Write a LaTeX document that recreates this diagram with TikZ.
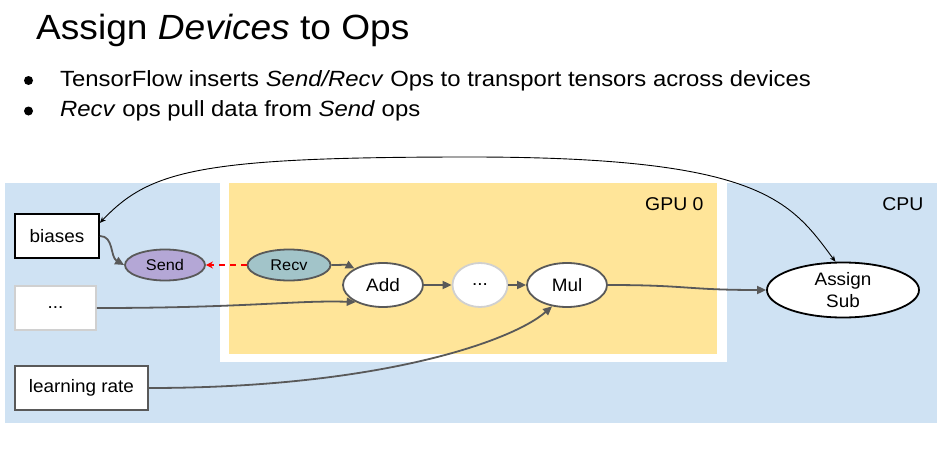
\documentclass[tikz,border=0pt]{standalone}
\usepackage{fontspec}
\setmainfont[FakeStretch=1.05]{Liberation Sans}
\newfontfamily\bulletfont[FakeStretch=1.085]{Liberation Sans}
\newfontfamily\titlefont[FakeStretch=1.06]{Liberation Sans}
\usetikzlibrary{shapes.geometric,arrows.meta}
\definecolor{cpublue}{HTML}{CFE2F3}
\definecolor{gpuyellow}{HTML}{FFE599}
\definecolor{sendpurple}{HTML}{B4A7D6}
\definecolor{recvteal}{HTML}{A2C4C9}
\definecolor{edgegray}{HTML}{595959}
\definecolor{lightgray}{HTML}{D0D0D0}
\tikzset{
  opnode/.style={ellipse, draw=edgegray, line width=1.8pt, fill=white, inner sep=0pt, minimum width=80pt, minimum height=44pt, font=\fontsize{18}{20}\selectfont},
  smallop/.style={ellipse, draw=edgegray, line width=1.8pt, inner sep=0pt, minimum height=31pt, font=\fontsize{15.5}{18}\selectfont},
  varbox/.style={draw, line width=1.8pt, fill=white, inner sep=0pt, minimum height=44pt, font=\fontsize{18}{20}\selectfont},
  flow/.style={draw=edgegray, line width=1.8pt, -{Triangle[length=9pt,width=8pt]}},
  thinflow/.style={draw=black, line width=0.9pt, {Stealth[length=6pt,width=5pt]}-{Stealth[length=6pt,width=5pt]}},
  devlabel/.style={anchor=base east, font=\fontsize{18.5}{20}\selectfont},
  bullettext/.style={anchor=base west, inner sep=0pt, font=\bulletfont\fontsize{22}{26}\selectfont}
}
\begin{document}
\begin{tikzpicture}[x=1pt,y=-1pt]
\useasboundingbox (0,0) rectangle (942,460);
\fill[white] (0,0) rectangle (942,460);
% title and bullets
\node[anchor=base west, inner sep=0pt, font=\titlefont\fontsize{35}{40}\selectfont] (title) at (36,40) {Assign \textit{Devices} to Ops};
\node[bullettext] (b1) at (60,86) {TensorFlow inserts \textit{Send/Recv} Ops to transport tensors across devices};
\node[bullettext] (b2) at (60,116.5) {\textit{Recv} ops pull data from \textit{Send} ops};
\fill (28.5,80.5) circle (4.5pt);
\fill (28.5,111) circle (4.5pt);
% regions
\fill[cpublue] (5,183) rectangle (937,423);
\fill[white] (220,183) rectangle (727,362);
\fill[gpuyellow] (229,183) rectangle (717,354);
\node[devlabel] (gpu) at (707,210.5) {GPU 0};
\node[devlabel] (cpu) at (927,210.5) {CPU};
% nodes
\node[varbox, draw=black, minimum width=84pt] (biases) at (57,236) {biases};
\node[varbox, draw=lightgray, minimum width=81pt] (dotsbox) at (55.5,308) {...};
\node[varbox, draw=edgegray, minimum width=133pt] (lr) at (81.5,388) {learning rate};
\node[smallop, fill=sendpurple, minimum width=80pt] (send) at (165,265) {Send};
\node[smallop, fill=recvteal, minimum width=83pt] (recv) at (289,265) {Recv};
\node[opnode] (add) at (383,285) {Add};
\node[opnode, draw=lightgray, minimum width=55pt] (dots) at (480,285) {...};
\node[opnode] (mul) at (567,285) {Mul};
\node[opnode, draw=black, minimum width=152pt, minimum height=55pt, align=center, font=\fontsize{18}{21.5}\selectfont] (assign) at (843,290) {Assign\\Sub};
% connectors
\draw[flow] (biases.east) .. controls +(14,0) and +(-14,-8) .. (send.west);
\draw[flow, draw=red, dashed, dash pattern=on 6pt off 5pt, line width=1.5pt, -{Stealth[length=7pt,width=7pt]}] (recv.west) -- (send.east);
\draw[flow] (recv.east) .. controls +(10,0) and +(-8,-4) .. (add.150);
\draw[flow] (dotsbox.east) .. controls +(150,0) and +(-60,-2) .. (add.212);
\draw[flow] (add.east) -- (dots.west);
\draw[flow] (dots.east) -- (mul.west);
\draw[flow] (mul.east) .. controls +(80,0) and +(-80,0) .. (assign.west);
\draw[flow] (lr.east) .. controls +(230,0) and +(-40,35) .. (mul.235);
\draw[thinflow] (biases.17) .. controls (150,170) and (200,157) .. (470,157) .. controls (760,157) and (790,200) .. (assign.105);
\end{tikzpicture}
\end{document}
